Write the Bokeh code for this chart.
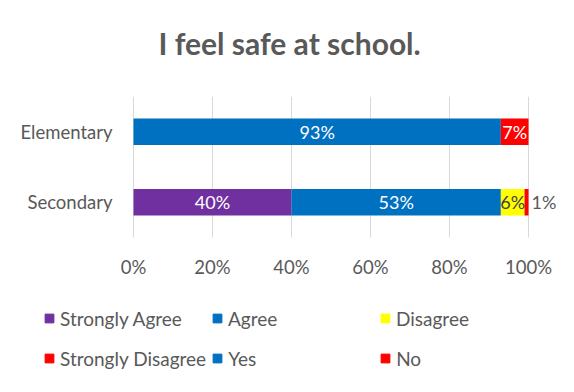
from bokeh.plotting import figure
from bokeh.models import (Range1d, FixedTicker, Legend, LegendItem,
                          ColumnDataSource, Title)
from bokeh.core.properties import value
from bokeh.embed import file_html
from bokeh.resources import INLINE

# ---- data ----
categories = ["Secondary", "Elementary"]          # bottom to top
series = ["Strongly Agree", "Agree", "Disagree", "Strongly Disagree", "Yes", "No"]
strongly_agree = [40, 0]
agree = [53, 0]
disagree = [6, 0]
strongly_disagree = [1, 0]
yes = [0, 93]
no = [0, 7]
colors = ["#7030A0", "#0070C0", "#FFFF00", "#FF0000", "#0070C0", "#FF0000"]
label_colors = ["white", "white", "#404040", "#595959", "white", "white"]
tick_values = [0, 20, 40, 60, 80, 100]
tick_labels = ["0%", "20%", "40%", "60%", "80%", "100%"]
title_text = "I feel safe at school."

FONT = "Lato"
GRAY = "#595959"

values_by_series = [strongly_agree, agree, disagree, strongly_disagree, yes, no]
ypos = list(range(len(categories)))
data = {"y": ypos}
for name, vals in zip(series, values_by_series):
    data[name] = vals
src = ColumnDataSource(data)

# frame spans the whole width and reaches the bottom, so the legend fits inside
W, H, TOP = 558, 376, 96
left_px, right_px = 133, 528          # where 0% and 100% sit
band_px = 141                         # height of the category band
px_per_x = (right_px - left_px) / 100
px_per_y = band_px / len(categories)
x_start = -left_px / px_per_x
x_end = (W - left_px) / px_per_x
y_end = len(categories) - 0.5
y_start = y_end - (H - TOP) / px_per_y

p = figure(width=W, height=H, x_range=Range1d(x_start, x_end),
           y_range=Range1d(y_start, y_end), output_backend="svg",
           toolbar_location=None, min_border_left=0, min_border_right=0,
           min_border_top=TOP, min_border_bottom=0)
p.outline_line_color = None
p.background_fill_color = "white"
p.border_fill_color = "white"
p.grid.grid_line_color = None

# gridlines limited to the category band
p.segment(x0=tick_values, x1=tick_values, y0=[-0.5] * len(tick_values),
          y1=[y_end] * len(tick_values), line_color="#D9D9D9", line_width=1)

renderers = p.hbar_stack(series, y="y", height=0.376, color=colors,
                         line_color=None, source=src)

# ---- data labels ----
in_x, in_y, in_t, in_c = [], [], [], []
out_x, out_y, out_t, out_c = [], [], [], []
for ci, yv in enumerate(ypos):
    cum = 0
    for si, vals in enumerate(values_by_series):
        v = vals[ci]
        if v > 0:
            if series[si] == "Strongly Disagree":
                out_x.append(cum + v); out_y.append(yv)
                out_t.append(f"{v}%"); out_c.append(label_colors[si])
            else:
                in_x.append(cum + v / 2); in_y.append(yv)
                in_t.append(f"{v}%"); in_c.append(label_colors[si])
        cum += v

p.text(x=in_x, y=in_y, text=in_t, text_color=in_c, text_align="center",
       text_baseline="middle", text_font=value(FONT), text_font_size="18px")
p.text(x=out_x, y=out_y, text=out_t, text_color=out_c, text_align="left",
       text_baseline="middle", x_offset=3, text_font=value(FONT),
       text_font_size="18px")

# ---- axes (pinned inside the frame) ----
p.xaxis.ticker = FixedTicker(ticks=tick_values)
p.xaxis.major_label_overrides = {t: l for t, l in zip(tick_values, tick_labels)}
p.xaxis.fixed_location = -0.5
p.yaxis.ticker = FixedTicker(ticks=ypos)
p.yaxis.major_label_overrides = {y: c for y, c in zip(ypos, categories)}
p.yaxis.fixed_location = 0
for ax in (p.xaxis, p.yaxis):
    ax.axis_line_color = None
    ax.major_tick_line_color = None
    ax.minor_tick_line_color = None
    ax.major_tick_out = 0
    ax.minor_tick_out = 0
    ax.major_label_text_font = FONT
    ax.major_label_text_font_size = "18.5px"
    ax.major_label_text_color = GRAY
p.xaxis.major_label_standoff = 18
p.yaxis.major_label_standoff = 21

# ---- title (spacer first, closest to the frame) ----
p.add_layout(Title(text=" ", text_font_size="2px", standoff=32), "above")
p.add_layout(Title(text=title_text, align="left", offset=158, standoff=0,
                   text_font=FONT, text_font_size="30px",
                   text_font_style="bold", text_color=GRAY), "above")

# ---- legend (zero-size marker proxies) ----
proxies = [p.scatter([0], [0], size=0, marker="square", color=c) for c in colors]
items = [LegendItem(label=s, renderers=[r]) for s, r in zip(series, proxies)]

def make_legend(its, y):
    return Legend(items=its, orientation="horizontal", location=(38, y),
                  glyph_width=22, glyph_height=24, label_standoff=0,
                  label_width=146, label_height=20, spacing=0, padding=0,
                  margin=0, border_line_color=None, background_fill_alpha=0,
                  label_text_font=FONT, label_text_font_size="19px",
                  label_text_color=GRAY)

p.add_layout(make_legend(items[:3], 46), "center")
p.add_layout(make_legend(items[3:], 6), "center")

open("out.html", "w").write(file_html(p, INLINE))
